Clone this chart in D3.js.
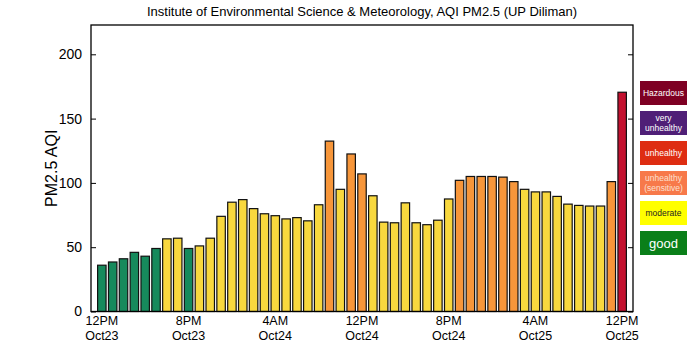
<!DOCTYPE html>
<html><head><meta charset="utf-8">
<script src="https://cdn.jsdelivr.net/npm/d3@7"></script>
<style>body{margin:0;background:#fff}svg{display:block}text{font-family:"Liberation Sans",Arial,sans-serif}</style>
</head><body><svg id="c" width="700" height="350"></svg>
<script>
const title = "Institute of Environmental Science & Meteorology, AQI PM2.5 (UP Diliman)";
const yLabel = "PM2.5 AQI";
// hourly values, starting 12PM Oct23 (hour 0) to 12PM Oct25 (hour 48)
const hours = d3.range(0, 49);
const aqi = [36, 38.5, 41, 46, 43, 49, 56.5, 57, 49, 51, 57, 74, 85, 87, 80, 76, 74.5, 72,
  73, 70.5, 83, 132.5, 95, 122.5, 107, 90, 69.5, 69, 84.5, 69, 67.5, 71, 87.5,
  102, 105, 105, 105, 104.5, 101, 95, 93, 93, 89.5, 83.5, 82.5, 82, 82, 101, 170.5];
const xTickHours = [0, 8, 16, 24, 32, 40, 48];
const xTickLine1 = ["12PM", "8PM", "4AM", "12PM", "8PM", "4AM", "12PM"];
const xTickLine2 = ["Oct23", "Oct23", "Oct24", "Oct24", "Oct24", "Oct25", "Oct25"];
const yTicks = [0, 50, 100, 150, 200];
const bandMax = [50, 100, 150, 200];
const bandColors = ["#168a5c", "#f8d83e", "#f7963a", "#c3112f"];
const legendLabels = [["Hazardous"], ["very", "unhealthy"], ["unhealthy"], ["unhealthy", "(sensitive)"], ["moderate"], ["good"]];
const legendColors = ["#7e0023", "#4f1f77", "#de2d12", "#f7794a", "#ffff00", "#0a7f19"];

const svg = d3.select("#c");
const L = 91, R = 633, T = 25, B = 311.5;
const x = d3.scaleLinear().domain([-1, 49]).range([L, R]);
const y = d3.scaleLinear().domain([0, 200]).range([B, 54.3]);
const colorOf = v => { for (let i = 0; i < bandMax.length; i++) if (v <= bandMax[i]) return bandColors[i]; return bandColors[bandColors.length - 1]; };
const step = x(1) - x(0);
const bw = step * 0.78;

svg.append("text").attr("x", 362).attr("y", 16).attr("text-anchor", "middle")
  .attr("font-size", 13).text(title);

svg.append("g").selectAll("rect").data(hours).join("rect")
  .attr("x", d => x(d) - bw / 2).attr("width", bw)
  .attr("y", d => y(aqi[d])).attr("height", d => B - y(aqi[d]))
  .attr("fill", d => colorOf(aqi[d])).attr("stroke", "#111").attr("stroke-width", 1.2);

// frame
svg.append("rect").attr("x", L).attr("y", T).attr("width", R - L).attr("height", B - T)
  .attr("fill", "none").attr("stroke", "#000").attr("stroke-width", 1.3);

// y axis left (inner ticks)
const yl = svg.append("g").attr("transform", `translate(${L},0)`)
  .call(d3.axisLeft(y).tickValues(yTicks).tickSize(-5).tickPadding(9).tickFormat(d3.format("d")));
yl.select(".domain").remove();
yl.selectAll("text").attr("font-size", 14).attr("fill", "#000").style("font-family", '"Liberation Sans",Arial,sans-serif');
yl.selectAll("line").attr("stroke", "#000");
const yr = svg.append("g").attr("transform", `translate(${R},0)`)
  .call(d3.axisRight(y).tickValues(yTicks).tickSize(-5).tickFormat(""));
yr.select(".domain").remove();
yr.selectAll("line").attr("stroke", "#000");

svg.append("text").attr("transform", `translate(57,${(T + B) / 2}) rotate(-90)`)
  .attr("text-anchor", "middle").attr("font-size", 16).text(yLabel);

// x tick labels (two lines)
const xg = svg.append("g");
xTickHours.forEach((h, i) => {
  xg.append("text").attr("x", x(h)).attr("y", 325).attr("text-anchor", "middle").attr("font-size", 12.5).text(xTickLine1[i]);
  xg.append("text").attr("x", x(h)).attr("y", 339.5).attr("text-anchor", "middle").attr("font-size", 12.5).text(xTickLine2[i]);
});

// legend
const lg = svg.append("g");
legendLabels.forEach((lines, i) => {
  const top = 81 + i * 30;
  lg.append("rect").attr("x", 640).attr("y", top).attr("width", 47).attr("height", 24).attr("fill", legendColors[i]);
  const isGood = i === 5;
  const fs = isGood ? 13 : 8.5;
  const col = i === 4 ? "#222" : (i === 3 ? "#fde0d0" : "#fff");
  const tx = lg.append("text").attr("text-anchor", "middle").attr("font-size", fs).attr("fill", col);
  lines.forEach((t, j) => {
    const yy = top + 12 + (j - (lines.length - 1) / 2) * 10 + fs * 0.35;
    tx.append("tspan").attr("x", 663.5).attr("y", yy).text(t);
  });
});
</script></body></html>
